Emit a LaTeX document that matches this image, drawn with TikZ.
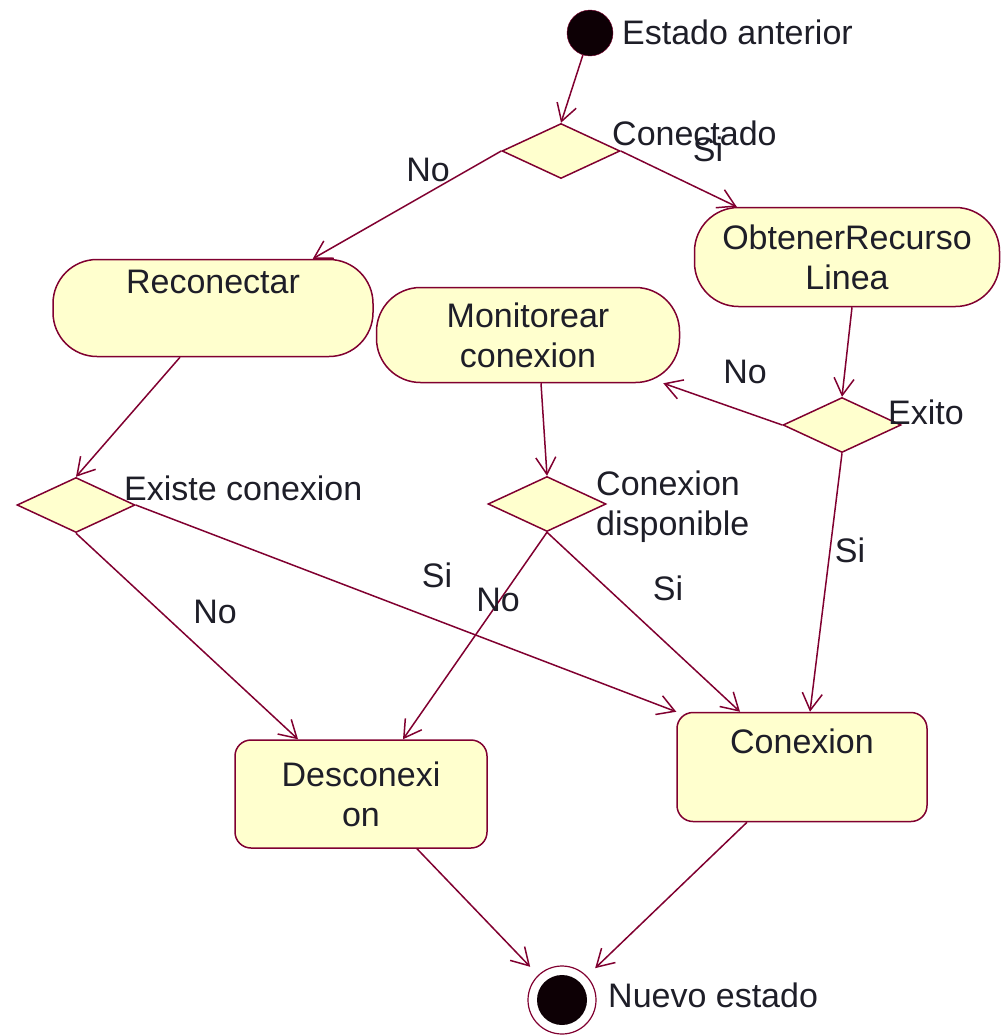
\documentclass[tikz,border=0pt]{standalone}
\usepackage{fontspec}
\setmainfont{Liberation Sans}
\usepackage{tikz}
\usetikzlibrary{shapes.geometric,arrows.meta,positioning}
\definecolor{umlline}{RGB}{128,0,48}
\definecolor{umlfill}{RGB}{255,255,206}
\definecolor{umltext}{RGB}{30,30,40}

\begin{document}
\begin{tikzpicture}[x=1pt,y=-1pt,
    font=\fontsize{34}{40}\selectfont, text=umltext,
    actividad/.style={draw=umlline, fill=umlfill, line width=1.5pt,
        align=center, inner sep=0pt, rounded corners=44pt},
    estado/.style={draw=umlline, fill=umlfill, line width=1.5pt,
        align=center, inner sep=0pt, rounded corners=16pt},
    decision/.style={diamond, draw=umlline, fill=umlfill, line width=1.5pt,
        inner sep=0pt, minimum width=118pt, minimum height=55pt},
    flujo/.style={draw=umlline, line width=1.5pt,
        -{Straight Barb[length=17pt,width=20pt,line width=1.5pt]}},
    etiqueta/.style={inner sep=0pt}]
    \useasboundingbox (0,0) rectangle (1002,1036);

    \node[circle, fill=black!90!umlline, draw=umlline, minimum size=46pt, inner sep=0pt] (ini) at (590,33) {};
    \node[etiqueta, anchor=west] (tini) at (622,32) {Estado anterior};

    \node[decision] (conectado) at (561,151) {};
    \node[etiqueta, anchor=west] (tconectado) at (612,133) {Conectado};

    \node[actividad, minimum width=320pt, minimum height=97pt] (reconectar) at (213,308) {Reconectar\\\strut};
    \node[actividad, minimum width=305pt, minimum height=99pt] (obtener) at (847,257) {ObtenerRecurso\\Linea};
    \node[actividad, minimum width=303pt, minimum height=95pt] (monitorear) at (528,335) {Monitorear\\conexion};

    \node[decision] (exito) at (842,425) {};
    \node[etiqueta, anchor=west] (texito) at (888,412) {Exito};

    \node[decision] (existe) at (76,505) {};
    \node[etiqueta, anchor=west] (texiste) at (124,488) {Existe conexion};

    \node[decision] (disponible) at (547,504) {};
    \node[etiqueta, anchor=west, align=left] (tdisponible) at (596,507) {Conexion\\disponible};

    \node[estado, minimum width=252pt, minimum height=108pt] (desconexion) at (361,794) {Desconexi\\on};
    \node[estado, minimum width=250pt, minimum height=109pt] (conexion) at (802,767) {Conexion\\\strut};

    \node[circle, draw=umlline, line width=1.2pt, minimum size=68pt, inner sep=0pt, outer sep=12pt] (fin) at (562,1000) {};
    \node[circle, fill=black!90!umlline, minimum size=50pt, inner sep=0pt] (finint) at (fin) {};
    \node[etiqueta, anchor=west] (tfin) at (608,995) {Nuevo estado};

    \draw[flujo] (ini) -- (conectado.north);
    \draw[flujo] (conectado.west) -- ([xshift=-61pt]reconectar.north east);
    \draw[flujo] (conectado.east) -- ([xshift=43pt]obtener.north west);
    \draw[flujo] ([xshift=5pt]obtener.south) -- (exito.north);
    \draw[flujo] (exito.west) -- ([xshift=-17pt]monitorear.south east);
    \draw[flujo] (exito.south) -- ([xshift=8pt]conexion.north);
    \draw[flujo] ([xshift=-33pt]reconectar.south) -- (existe.north);
    \draw[flujo] (existe.south) -- ([xshift=-63pt]desconexion.north);
    \draw[flujo] (existe.east) -- (conexion.north west);
    \draw[flujo] ([xshift=13pt]monitorear.south) -- (disponible.north);
    \draw[flujo] (disponible.south) -- ([xshift=42pt]desconexion.north);
    \draw[flujo] (disponible.south) -- ([xshift=-62pt]conexion.north);
    \draw[flujo] ([xshift=56pt]desconexion.south) -- (fin);
    \draw[flujo] ([xshift=-55pt]conexion.south) -- (fin);

    \node[etiqueta] (lno1) at (428,170) {No};
    \node[etiqueta] (lsi1) at (708,149) {Si};
    \node[etiqueta] (lno2) at (745,372) {No};
    \node[etiqueta] (lsi2) at (850,550) {Si};
    \node[etiqueta] (lno3) at (215,612) {No};
    \node[etiqueta] (lsi3) at (437,575) {Si};
    \node[etiqueta] (lno4) at (498,600) {No};
    \node[etiqueta] (lsi4) at (668,588) {Si};
\end{tikzpicture}
\end{document}
